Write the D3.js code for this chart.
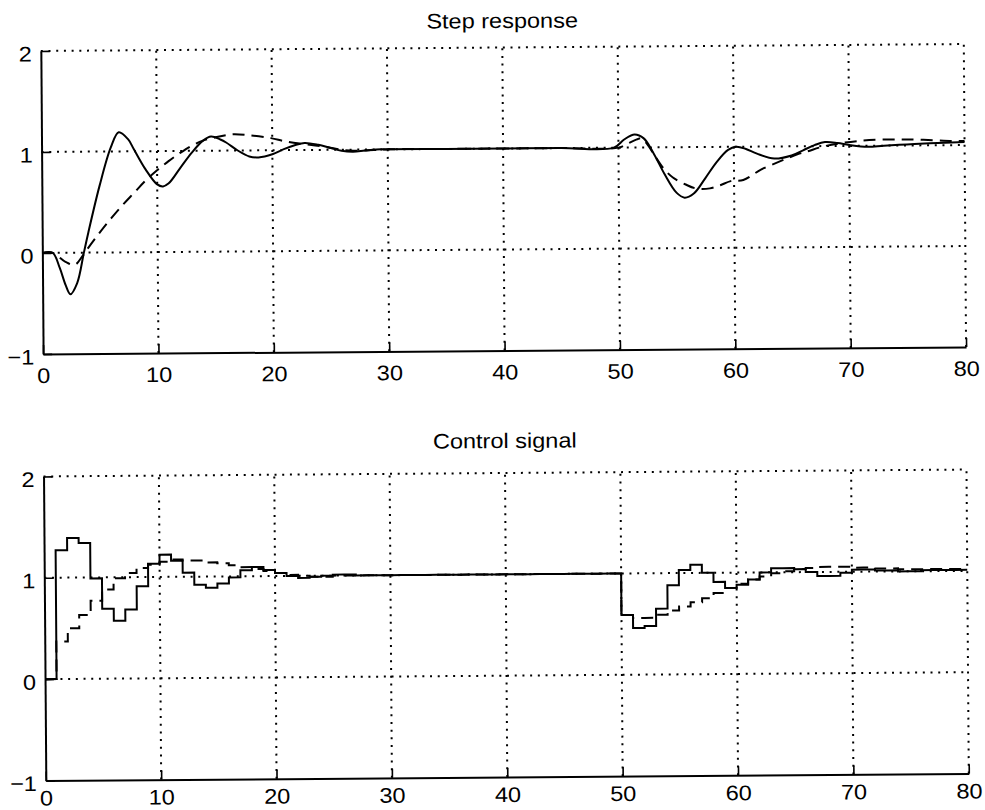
<!DOCTYPE html>
<html>
<head>
<meta charset="utf-8">
<script src="https://cdn.jsdelivr.net/npm/d3@7"></script>
<style>
  body { margin: 0; background: #fff; }
  text { font-family: "Liberation Sans", Arial, Helvetica, sans-serif; fill: #000; }
</style>
</head>
<body>
<div id="chart"></div>
<script>
// tick values shared by both panels
var xTicks = [0, 10, 20, 30, 40, 50, 60, 70, 80];
var yTicks = [-1, 0, 1, 2];

// step response, solid (process output)
var respT = [0, 0.9, 1.5, 2, 2.4, 3, 3.6, 4, 5, 6, 6.7, 7.5, 8, 9, 10, 10.5, 11, 12, 13, 14, 14.7, 15.5, 16, 17, 18, 18.8, 20, 21, 22, 22.8, 24, 25, 26, 27, 28, 29, 30, 35, 40, 45, 49.6,
             50.5, 51.4, 52.2, 53, 54, 55, 55.7, 56.5, 57.5, 58.5, 59.5, 60.2, 61, 62, 63.5, 65, 66, 67, 67.9, 69, 70, 71.6, 73, 75, 77, 80];
var respY = [0, 0, -0.15, -0.32, -0.41, -0.3, 0, 0.2, 0.66, 1.04, 1.19, 1.12, 1.02, 0.82, 0.67, 0.65, 0.68, 0.83, 0.98, 1.1, 1.14, 1.11, 1.08, 1.0, 0.94, 0.93, 0.96, 1.01, 1.05, 1.07, 1.05, 1.02, 0.99, 0.98, 0.99, 1.0, 1.0, 1.0, 1.0, 1.0, 1.0,
             1.08, 1.13, 1.09, 0.95, 0.73, 0.55, 0.5, 0.54, 0.69, 0.85, 0.97, 1.0, 0.98, 0.93, 0.88, 0.91, 0.96, 1.01, 1.04, 1.03, 1.01, 0.99, 1.0, 1.01, 1.02, 1.03];

// step response, dashed (model output)
var modelT = [0, 0.9, 2, 2.8, 3.5, 4, 5, 6, 7, 8, 9, 10, 11, 12, 13, 14, 15, 16.5, 18, 19.9, 21, 22, 23.4, 25, 26, 27, 28, 30, 35, 40, 45,
              50, 50.8, 51.6, 52, 53.9, 54.7, 55.8, 56.7, 57.9, 58.8, 59.7, 60.8, 62.3, 62.9, 65.5, 66.4, 67.9, 71, 75, 79, 80];
var modelY = [0, 0, -0.09, -0.12, -0.03, 0.05, 0.2, 0.34, 0.47, 0.59, 0.71, 0.81, 0.9, 0.98, 1.05, 1.1, 1.13, 1.16, 1.15, 1.12, 1.09, 1.07, 1.05, 1.02, 1.0, 0.99, 0.99, 1.0, 1.0, 1.0, 1.0,
              1.0, 1.04, 1.08, 1.09, 0.79, 0.7, 0.63, 0.59, 0.59, 0.62, 0.66, 0.67, 0.77, 0.8, 0.92, 0.95, 1.0, 1.05, 1.06, 1.04, 1.04];

// control signal, one value per sample k = 0..80 (held until k+1)
var ctrlSolid = [0, 1.27, 1.39, 1.34, 0.99, 0.69, 0.57, 0.68, 0.91, 1.13, 1.22, 1.16, 1.04, 0.92, 0.89, 0.93, 0.99, 1.06, 1.09, 1.06,
                 1.03, 1.0, 0.98, 0.99, 1.0, 1.01, 1.01, 1.0, 1.0, 1.0,
                 1.0, 1.0, 1.0, 1.0, 1.0, 1.0, 1.0, 1.0, 1.0, 1.0, 1.0, 1.0, 1.0, 1.0, 1.0, 1.0, 1.0, 1.0, 1.0, 1.0,
                 0.59, 0.46, 0.48, 0.65, 0.88, 1.03, 1.08, 1.0, 0.91, 0.85, 0.88, 0.93, 1.0, 1.04, 1.04, 1.03, 1.0, 0.96, 0.96, 0.99,
                 1.02, 1.02, 1.01, 1.01, 1.0, 1.0, 1.01, 1.01, 1.01, 1.01, 1.01];
var ctrlDashed = [0, 0.37, 0.5, 0.63, 0.77, 0.88, 0.99, 1.04, 1.09, 1.12, 1.15, 1.17, 1.16, 1.16, 1.14, 1.13, 1.11, 1.09, 1.07, 1.05,
                  1.03, 1.01, 1.0, 0.99, 0.99, 1.0, 1.0, 1.0, 1.0, 1.0,
                  1.0, 1.0, 1.0, 1.0, 1.0, 1.0, 1.0, 1.0, 1.0, 1.0, 1.0, 1.0, 1.0, 1.0, 1.0, 1.0, 1.0, 1.0, 1.0, 1.0,
                  0.59, 0.56, 0.56, 0.59, 0.63, 0.67, 0.71, 0.75, 0.8, 0.85, 0.89, 0.93, 0.96, 0.99, 1.01, 1.03, 1.04, 1.05, 1.05, 1.05,
                  1.04, 1.04, 1.03, 1.03, 1.02, 1.02, 1.02, 1.02, 1.02, 1.02, 1.02];

var width = 985, height = 810;

var svg = d3.select("#chart")
    .append("svg")
    .attr("width", width)
    .attr("height", height);

// the scanned original sits slightly tilted
var root = svg.append("g")
    .attr("transform", "rotate(-0.43, 505, 405)");

const drawPanel = (box, title, series) => {
    var x = d3.scaleLinear().domain([0, 80]).range([box.left, box.right]);
    var y = d3.scaleLinear().domain([-1, 2]).range([box.bottom, box.top]);
    var g = root.append("g");

    // dotted grid (also forms the top and right edges)
    g.selectAll(".hgrid")
        .data(yTicks.slice(1))
        .enter()
        .append("line")
        .attr("x1", x(0)).attr("x2", x(80))
        .attr("y1", function (d) { return y(d); })
        .attr("y2", function (d) { return y(d); })
        .attr("stroke", "#000")
        .attr("stroke-width", 2)
        .attr("stroke-dasharray", "2,5.7");
    g.selectAll(".vgrid")
        .data(xTicks.slice(1))
        .enter()
        .append("line")
        .attr("y1", y(-1)).attr("y2", y(2))
        .attr("x1", function (d) { return x(d); })
        .attr("x2", function (d) { return x(d); })
        .attr("stroke", "#000")
        .attr("stroke-width", 2)
        .attr("stroke-dasharray", "2,5.7");

    // solid left and bottom axes with inward ticks
    var xAxis = g.append("g")
        .attr("transform", "translate(0," + box.bottom + ")")
        .call(d3.axisBottom(x).tickValues(xTicks).tickFormat(d3.format("d"))
            .tickSizeInner(-9).tickSizeOuter(0).tickPadding(box.labelPad));
    var yAxis = g.append("g")
        .attr("transform", "translate(" + box.left + ",0)")
        .call(d3.axisLeft(y).tickValues(yTicks).tickFormat(d3.format("d"))
            .tickSizeInner(-9).tickSizeOuter(0).tickPadding(8));

    [xAxis, yAxis].forEach(function (a) {
        a.select(".domain").attr("stroke", "#000").attr("stroke-width", 2);
        a.selectAll(".tick line").attr("stroke", "#000").attr("stroke-width", 1.6);
        a.selectAll(".tick text")
            .attr("font-size", "21px")
            .attr("fill", "#000")
            .attr("transform", "scale(1.12,1)")
            .style("font-family", "'Liberation Sans', Arial, sans-serif");
    });
    yAxis.selectAll(".tick text").attr("dy", "0.47em");

    g.append("text")
        .attr("transform", "translate(" + ((box.left + box.right) / 2) + "," + box.titleY + ") scale(1.12,1)")
        .attr("text-anchor", "middle")
        .attr("font-size", "21px")
        .text(title);

    series.forEach(function (s) {
        var line = d3.line()
            .x(function (d) { return x(d[0]); })
            .y(function (d) { return y(d[1]); })
            .curve(s.curve);
        g.append("path")
            .datum(s.points)
            .attr("d", line)
            .attr("fill", "none")
            .attr("stroke", "#000")
            .attr("stroke-width", 2)
            .attr("stroke-dasharray", s.dash);
    });
}

var zip = (ts, ys) => ts.map(function (t, i) { return [t, ys[i]]; });
var steps = (ys) => ys.map(function (v, k) { return [k, v]; });

drawPanel({left: 43.5, right: 966.5, top: 47.5, bottom: 350.5, titleY: 28, labelPad: 14}, "Step response", [
    {points: zip(modelT, modelY), curve: d3.curveCatmullRom, dash: "12,7"},
    {points: zip(respT, respY), curve: d3.curveCatmullRom, dash: null}
]);

drawPanel({left: 43, right: 966, top: 473, bottom: 777, titleY: 448, labelPad: 10}, "Control signal", [
    {points: steps(ctrlDashed), curve: d3.curveStepAfter, dash: "12,7"},
    {points: steps(ctrlSolid), curve: d3.curveStepAfter, dash: null}
]);
</script>
</body>
</html>
